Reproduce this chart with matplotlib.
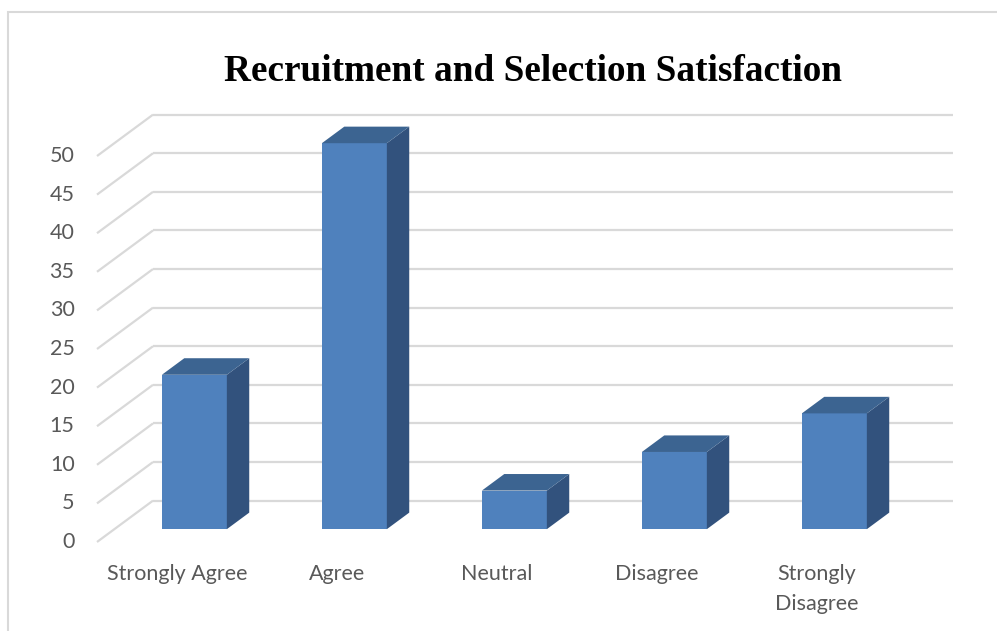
import matplotlib
matplotlib.use("Agg")
import matplotlib.pyplot as plt
from matplotlib.patches import Polygon, Rectangle

# --- Data ---
categories = ["Strongly Agree", "Agree", "Neutral", "Disagree", "Strongly\nDisagree"]
values = [20, 50, 5, 10, 15]
yticks = [0, 5, 10, 15, 20, 25, 30, 35, 40, 45, 50]
title = "Recruitment and Selection Satisfaction"

# --- Fake 3D geometry (data units) ---
DX, DY = 0.35, 5.36        # depth offset of back wall
F0, F1 = 0.31, 0.71        # bar front / back depth fraction
BW = 0.406                 # bar width

front_col = "#4F81BD"
side_col = "#32527D"
top_col = "#3C6491"
grid_col = "#D9D9D9"
text_col = "#595959"

fig = plt.figure(figsize=(9.97, 6.31), dpi=100)
# chart border
fig.patches.append(Rectangle((8 / 997, -0.1), 1.1, 1 - 12 / 631 + 0.1,
                             transform=fig.transFigure, fill=False,
                             edgecolor=grid_col, linewidth=1.5))

ax = fig.add_axes([97 / 997, 89 / 631, 864 / 997, 432.3 / 631])
ax.set_xlim(-0.5, 4.9)
ax.set_ylim(0, 56)
ax.axis("off")

n = len(categories)
x_left = -0.5
x_right = n - 0.5

# gridlines: left wall diagonals + back wall horizontals
for t in yticks:
    ax.plot([x_left, x_left + DX], [t, t + DY], color=grid_col, lw=1.6,
            solid_capstyle="butt", zorder=1, clip_on=False)
    ax.plot([x_left + DX, x_right + DX], [t + DY, t + DY], color=grid_col,
            lw=1.6, solid_capstyle="butt", zorder=1, clip_on=False)
    ax.text(x_left - 0.14, t, str(t), ha="right", va="center",
            fontsize=15.5, color=text_col, family="Lato")

# bars
for i, v in enumerate(values):
    x0 = i + F0 * DX - BW / 2
    x1 = x0 + BW
    b0 = F0 * DY
    ddx = (F1 - F0) * DX
    ddy = (F1 - F0) * DY
    ax.bar(x0, v, width=BW, bottom=b0, align="edge", color=front_col,
           edgecolor="none", zorder=3)
    side = [(x1, b0), (x1 + ddx, b0 + ddy), (x1 + ddx, b0 + v + ddy), (x1, b0 + v)]
    ax.add_patch(Polygon(side, closed=True, facecolor=side_col,
                         edgecolor="none", zorder=3))
    top = [(x0, b0 + v), (x1, b0 + v), (x1 + ddx, b0 + v + ddy), (x0 + ddx, b0 + v + ddy)]
    ax.add_patch(Polygon(top, closed=True, facecolor=top_col,
                         edgecolor="none", zorder=3))

# category labels
for i, c in enumerate(categories):
    ax.text(i, -2.85, c, ha="center", va="top", fontsize=15.5,
            color=text_col, family="Lato", linespacing=1.6)

fig.text(533 / 997, 1 - 81 / 631, title, ha="center", va="baseline",
         fontsize=26.8, fontweight="bold", family="Liberation Serif", color="black")

fig.savefig("out.png", dpi=100)
